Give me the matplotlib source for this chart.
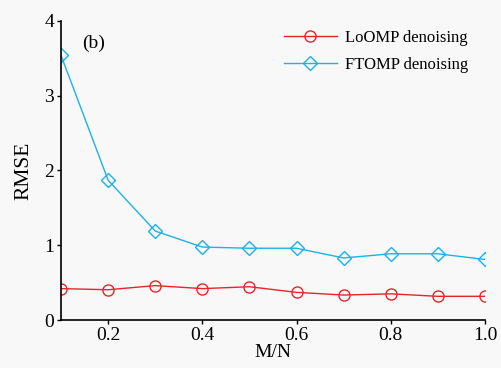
import matplotlib
matplotlib.use("Agg")
import matplotlib.pyplot as plt

plt.rcParams['font.family'] = ['Liberation Serif', 'DejaVu Serif']
plt.rcParams['mathtext.fontset'] = 'stix'

mn = [0.1, 0.2, 0.3, 0.4, 0.5, 0.6, 0.7, 0.8, 0.9, 1.0]
loomp = [0.42, 0.405, 0.46, 0.42, 0.445, 0.37, 0.334, 0.35, 0.317, 0.317]
ftomp = [3.54, 1.87, 1.19, 0.976, 0.96, 0.96, 0.83, 0.886, 0.886, 0.81]
xticks = [0.2, 0.4, 0.6, 0.8, 1.0]
yticks = [0, 1, 2, 3, 4]

bg = '#f8f8f8'
fig = plt.figure(figsize=(5.01, 3.68), dpi=100, facecolor=bg)
ax = fig.add_axes([0.1218, 0.1304, 0.8462, 0.8126], facecolor=bg)

red = '#e8242b'
blue = '#1cb2e8'
ax.plot(mn, loomp, color=red, lw=1.0, marker='o', ms=8, mfc='none', mec=red, mew=1.0,
        label='LoOMP denoising')
ax.plot(mn, ftomp, color=blue, lw=1.0, marker='D', ms=7.5, mfc='none', mec=blue, mew=1.0,
        label='FTOMP denoising')

ax.set_xlim(0.1, 1.0)
ax.set_ylim(0, 4)
ax.set_xticks(xticks)
ax.set_xticklabels(['0.2', '0.4', '0.6', '0.8', '1.0'])
ax.set_yticks(yticks)
ax.tick_params(direction='out', length=3, width=1, labelsize=14, pad=2)
for s in ['top', 'right']:
    ax.spines[s].set_visible(False)
for s in ['left', 'bottom']:
    ax.spines[s].set_linewidth(1.2)

ax.set_xlabel('M/N', fontsize=14, labelpad=0)
ax.set_ylabel('RMSE', fontsize=15.5, labelpad=8)
ax.text(0.17, 3.7, '(b)', fontsize=14, ha='center', va='center')

leg = ax.legend(loc='upper right', bbox_to_anchor=(0.995, 1.02), frameon=False, fontsize=12,
                handlelength=3.2, labelspacing=0.65, handletextpad=0.45)

fig.savefig('out.png', dpi=100, facecolor=bg)
